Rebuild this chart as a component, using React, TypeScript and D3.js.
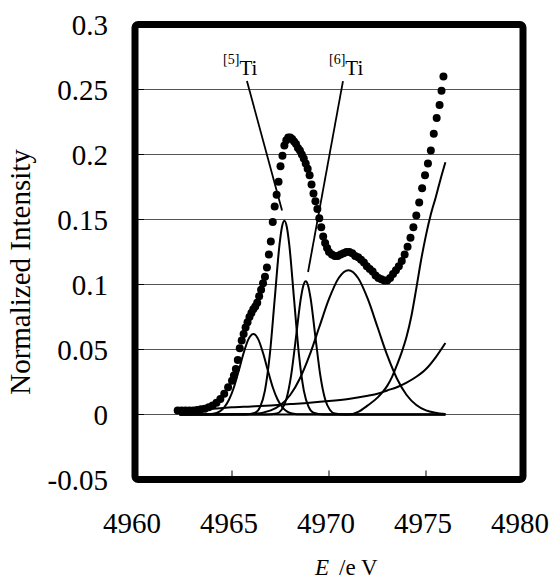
import React from "react";
import * as d3 from "d3";

// measured spectrum (energy in eV, normalized intensity)
const energy = [
  4962.2, 4962.4, 4962.6, 4962.8, 4963.0, 4963.2, 4963.4, 4963.6, 4963.8, 4964.0,
  4964.2, 4964.4, 4964.6, 4964.8, 4965.0, 4965.1, 4965.2, 4965.3, 4965.4, 4965.5,
  4965.6, 4965.7, 4965.8, 4965.9, 4966.0, 4966.1, 4966.2, 4966.3, 4966.4, 4966.5,
  4966.6, 4966.7, 4966.8, 4966.9, 4967.0, 4967.1, 4967.2, 4967.3, 4967.4, 4967.5,
  4967.6, 4967.7, 4967.8, 4967.9, 4968.0, 4968.1, 4968.2, 4968.3, 4968.4, 4968.5,
  4968.6, 4968.7, 4968.8, 4968.9, 4969.0, 4969.1, 4969.2, 4969.3, 4969.4, 4969.5,
  4969.6, 4969.7, 4969.8, 4969.9, 4970.0, 4970.15, 4970.3, 4970.45, 4970.6, 4970.75,
  4970.9, 4971.05, 4971.2, 4971.35, 4971.5, 4971.65, 4971.8, 4971.95, 4972.1, 4972.25,
  4972.4, 4972.55, 4972.7, 4972.85, 4973.0, 4973.15, 4973.3, 4973.45, 4973.6, 4973.75,
  4973.9, 4974.05, 4974.2, 4974.35, 4974.5, 4974.65, 4974.8, 4974.95, 4975.1, 4975.25,
  4975.4, 4975.55, 4975.7, 4975.8, 4975.9
];
const intensity = [
  0.003, 0.003, 0.003, 0.003, 0.003, 0.0035, 0.004, 0.0045, 0.0055, 0.007,
  0.009, 0.012, 0.016, 0.021, 0.026, 0.03, 0.035, 0.042, 0.051, 0.057,
  0.062, 0.067, 0.071, 0.075, 0.078, 0.081, 0.083, 0.086, 0.091, 0.096,
  0.101, 0.106, 0.113, 0.123, 0.133, 0.148, 0.16, 0.169, 0.179, 0.191,
  0.199, 0.207, 0.211, 0.213, 0.213, 0.212, 0.21, 0.208, 0.205, 0.203,
  0.2, 0.197, 0.193, 0.189, 0.184, 0.177, 0.17, 0.164, 0.158, 0.151,
  0.144, 0.137, 0.132, 0.128, 0.125, 0.123, 0.122, 0.122, 0.123, 0.124,
  0.125, 0.125, 0.124, 0.122, 0.121, 0.119, 0.117, 0.114, 0.112, 0.11,
  0.107, 0.105, 0.104, 0.103, 0.103, 0.105, 0.108, 0.111, 0.114, 0.118,
  0.123, 0.129, 0.136, 0.144, 0.153, 0.163, 0.174, 0.184, 0.193, 0.203,
  0.216, 0.228, 0.238, 0.249, 0.26
];

// fitted components, [energy, intensity]
const peak1: [number, number][] = [
  [4962.3, 0], [4963.6, 0.0001], [4964.1, 0.0008], [4964.6, 0.0055], [4964.85, 0.0115],
  [4965.1, 0.021], [4965.35, 0.0338], [4965.6, 0.0473], [4965.85, 0.058], [4966.1, 0.062],
  [4966.35, 0.058], [4966.6, 0.0473], [4966.85, 0.0338], [4967.1, 0.021], [4967.35, 0.0115],
  [4967.6, 0.0055], [4968.1, 0.0008], [4968.6, 0.0001], [4976, 0]
];
const peak2: [number, number][] = [
  [4962.3, 0], [4965.7, 0], [4966.2, 0.0014], [4966.45, 0.0058], [4966.7, 0.0186],
  [4966.95, 0.0462], [4967.2, 0.0885], [4967.45, 0.1308], [4967.575, 0.1442], [4967.7, 0.149],
  [4967.825, 0.1442], [4967.95, 0.1308], [4968.2, 0.0885], [4968.45, 0.0462], [4968.7, 0.0186],
  [4968.95, 0.0058], [4969.2, 0.0014], [4969.7, 0], [4976, 0]
];
const peak3: [number, number][] = [
  [4962.3, 0], [4966.8, 0], [4967.3, 0.0008], [4967.55, 0.0035], [4967.8, 0.0117],
  [4968.05, 0.0303], [4968.3, 0.0596], [4968.55, 0.0895], [4968.675, 0.0991], [4968.8, 0.1025],
  [4968.925, 0.0991], [4969.05, 0.0895], [4969.3, 0.0596], [4969.55, 0.0303], [4969.8, 0.0117],
  [4970.05, 0.0035], [4970.3, 0.0008], [4970.8, 0], [4976, 0]
];
const peak4: [number, number][] = [
  [4962.3, 0], [4966, 0.0004], [4967, 0.0032], [4967.5, 0.0073], [4968, 0.015],
  [4968.5, 0.0277], [4969, 0.0456], [4969.5, 0.0673], [4970, 0.0889], [4970.5, 0.105],
  [4971, 0.111], [4971.5, 0.105], [4972, 0.0889], [4972.5, 0.0673], [4973, 0.0456],
  [4973.5, 0.0277], [4974, 0.015], [4974.5, 0.0073], [4975, 0.0032], [4976, 0.0004]
];
const edge: [number, number][] = [
  [4962.3, 0], [4971, 0], [4971.5, 0.002], [4972, 0.007], [4972.5, 0.013],
  [4972.75, 0.017], [4973, 0.022], [4973.25, 0.029], [4973.5, 0.038], [4973.75, 0.048],
  [4974, 0.06], [4974.25, 0.076], [4974.5, 0.097], [4974.75, 0.119], [4975, 0.138],
  [4975.25, 0.154], [4975.5, 0.167], [4975.75, 0.181], [4976, 0.194]
];
const background: [number, number][] = [
  [4962.3, 0.003], [4963, 0.004], [4964, 0.0045], [4965, 0.0055], [4966, 0.0062],
  [4967, 0.007], [4968, 0.008], [4969, 0.009], [4970, 0.0103], [4971, 0.012],
  [4972, 0.0145], [4972.5, 0.016], [4973, 0.0185], [4973.5, 0.021], [4974, 0.0245],
  [4974.5, 0.029], [4975, 0.035], [4975.5, 0.044], [4976, 0.055]
];

const xTicks = [4960, 4965, 4970, 4975, 4980];
const yTicks = [-0.05, 0, 0.05, 0.1, 0.15, 0.2, 0.25, 0.3];
const yTickLabels = ["-0.05", "0", "0.05", "0.1", "0.15", "0.2", "0.25", "0.3"];

// annotation labels and their leader lines, in data units
const siteLabels = [
  { sup: "[5]", text: "Ti", e: 4964.54, v: 0.261, from: [4965.77, 0.2565], to: [4967.58, 0.157] },
  { sup: "[6]", text: "Ti", e: 4970.0, v: 0.261, from: [4970.72, 0.2565], to: [4968.92, 0.1096] }
];

const font = '"Liberation Serif"';

export default function App() {
  const width = 555;
  const height = 581;
  const x = d3.scaleLinear().domain([4960, 4980]).range([135, 523]);
  const y = d3.scaleLinear().domain([-0.05, 0.3]).range([479.5, 24.5]);

  const line = d3
    .line<[number, number]>()
    .x(d => x(d[0]))
    .y(d => y(d[1]))
    .curve(d3.curveMonotoneX);

  const components = [peak1, peak2, peak3, peak4, edge, background];
  const [x0, x1] = x.range();
  const [yBottom, yTop] = y.range();

  return (
    <svg
      width={width}
      height={height}
      style={{ position: "absolute", left: 0, top: 0, background: "#fff", fontFamily: font }}
    >
      {/* gridlines */}
      {yTicks
        .filter(t => t > -0.05 && t < 0.3)
        .map(t => (
          <line key={t} x1={x0} x2={x1} y1={y(t)} y2={y(t)} stroke="#555" strokeWidth={1.2} />
        ))}
      {/* inward ticks */}
      {xTicks.map(t => (
        <line key={"xt" + t} x1={x(t)} x2={x(t)} y1={yBottom} y2={yBottom - 9} stroke="#000" strokeWidth={1} />
      ))}
      {yTicks.map(t => (
        <line key={"yt" + t} x1={x0} x2={x0 + 9} y1={y(t)} y2={y(t)} stroke="#000" strokeWidth={1} />
      ))}

      {components.map((c, i) => (
        <path key={i} d={line(c) || ""} fill="none" stroke="#000" strokeWidth={2} />
      ))}

      {energy.map((e, i) => (
        <circle key={i} cx={x(e)} cy={y(intensity[i])} r={4} fill="#000" />
      ))}

      {siteLabels.map((s, i) => (
        <g key={i}>
          <line
            x1={x(s.from[0])}
            y1={y(s.from[1])}
            x2={x(s.to[0])}
            y2={y(s.to[1])}
            stroke="#000"
            strokeWidth={1.8}
          />
          <text x={x(s.e)} y={y(s.v)} fontSize={21} style={{ fontFamily: font }}>
            <tspan fontSize={14} dy={-11}>{s.sup}</tspan>
            <tspan dy={11}>{s.text}</tspan>
          </text>
        </g>
      ))}

      {/* frame */}
      <rect
        x={x0}
        y={yTop}
        width={x1 - x0}
        height={yBottom - yTop}
        fill="none"
        stroke="#000"
        strokeWidth={7}
        rx={3}
      />

      {yTicks.map((t, i) => (
        <text key={"yl" + t} x={108} y={y(t)} dy="0.35em" textAnchor="end" fontSize={29} style={{ fontFamily: font }}>
          {yTickLabels[i]}
        </text>
      ))}
      {xTicks.map(t => (
        <text key={"xl" + t} x={x(t) - 3} y={533} textAnchor="middle" fontSize={29} style={{ fontFamily: font }}>
          {t}
        </text>
      ))}

      <text transform="translate(30,272) rotate(-90)" textAnchor="middle" fontSize={29} style={{ fontFamily: font }}>
        Normalized Intensity
      </text>
      <text x={315} y={575} fontSize={23} style={{ fontFamily: font }}>
        <tspan fontStyle="italic">E</tspan>
        <tspan dx={10}>/e V</tspan>
      </text>
    </svg>
  );
}
